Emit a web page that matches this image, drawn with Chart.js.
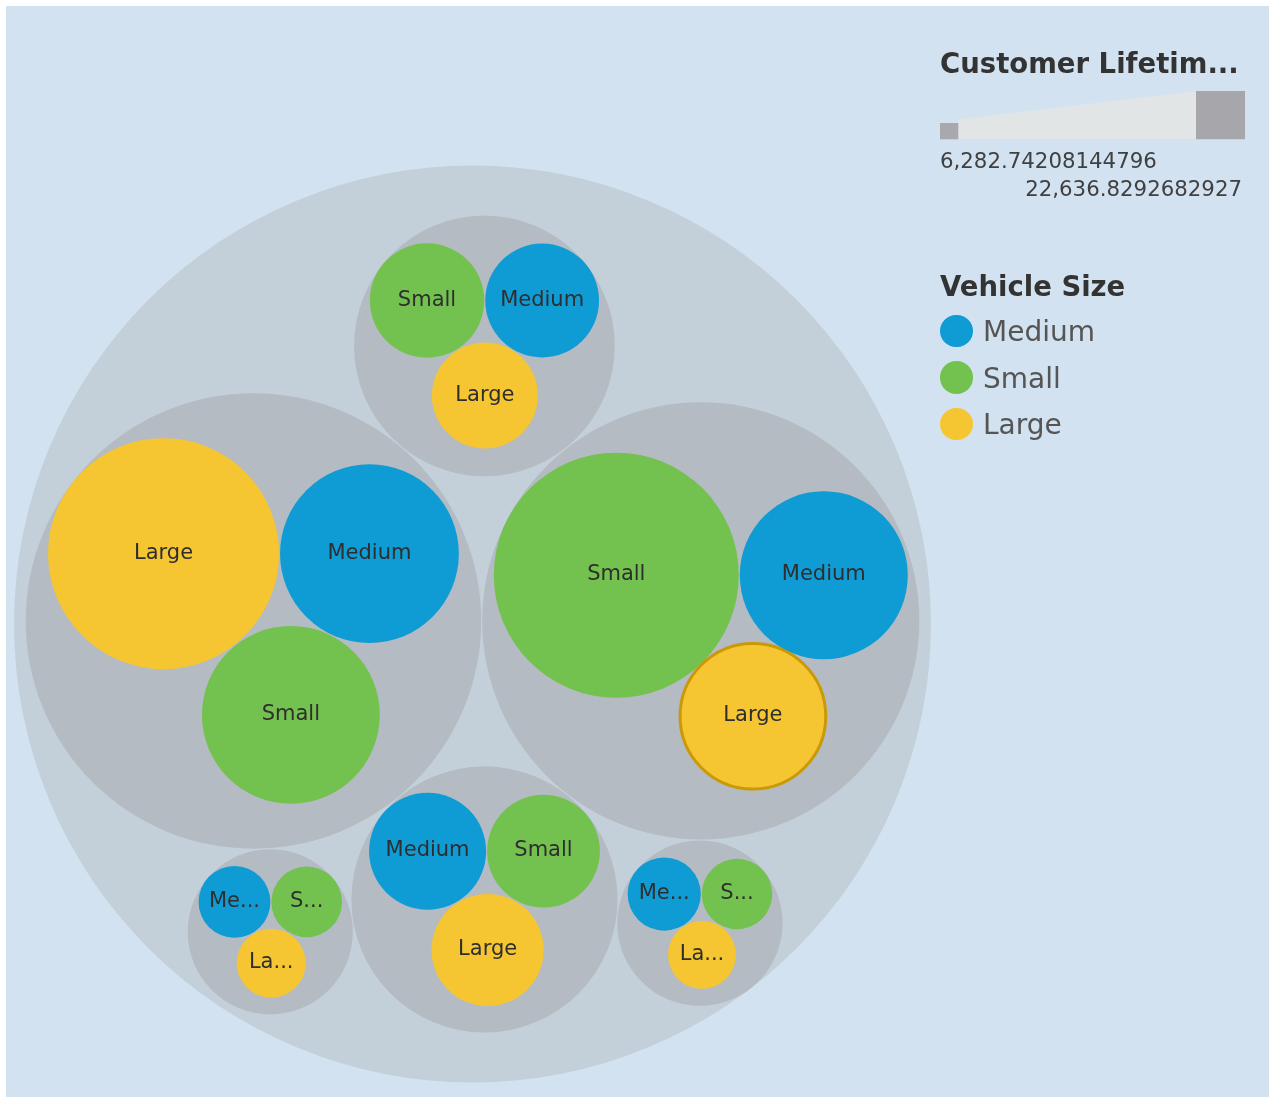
<!DOCTYPE html>
<html>
<head>
<meta charset="utf-8">
<script src="https://cdn.jsdelivr.net/npm/chart.js@4.4.1/dist/chart.umd.min.js"></script>
<style>
  html, body { margin: 0; padding: 0; background: #ffffff; }
  body { width: 1271px; height: 1099px; position: relative; overflow: hidden; font-family: "DejaVu Sans", sans-serif; }
  #frame { position: absolute; left: 6px; top: 6px; width: 1263px; height: 1091px; background: #d2e2f0; }
  #c { position: absolute; left: 0; top: 0; }
  .lg { position: absolute; white-space: nowrap; line-height: 1; }
  .ttl { font-weight: bold; font-size: 27.5px; color: #333333; }
  .tick { font-size: 21.3px; color: #404040; }
  .item { font-size: 28px; color: #555555; }
  .dot { position: absolute; width: 32.6px; height: 32.6px; border-radius: 50%; }
  #sizeLegend { position: absolute; left: 0; top: 0; }
</style>
</head>
<body>
<div id="frame"></div>
<canvas id="c" width="1271" height="1099"></canvas>
<svg id="sizeLegend" width="1271" height="220"></svg>
<div id="legend"></div>
<script>
// ---------------- DATA ----------------
const sizeNames = ['Medium', 'Small', 'Large'];
const groupNames = ['Group 1', 'Group 2', 'Group 3', 'Group 4', 'Group 5', 'Group 6'];
// Customer Lifetime Value per group, for each Vehicle Size
const mediumValues = [16520, 15522, 10810, 10515, 6634, 6763];
const smallValues  = [16428, 22636.83, 10422, 10570, 6523, 6505];
const largeValues  = [21343, 13460, 10367, 9794, 6375, 6282.74];
const sizeLegendMin = 6282.74208144796;
const sizeLegendMax = 22636.8292682927;
const sizeLegendLabels = ['6,282.74208144796', '22,636.8292682927'];
const legendTitleSize = 'Customer Lifetim...';
const legendTitleColor = 'Vehicle Size';

// ---------------- STYLE ----------------
const sizeColors = { Medium: '#0f9bd4', Small: '#73c14f', Large: '#f5c631' };
const groupColor = '#b4bbc3';
const outerColor = '#c3d0d9';
const highlight = { size: 'Large', group: 1, color: '#c99a06', width: 3 };
const maxRadiusPx = 122.5;
const childPad = 1, groupPad = 1;
const centerPx = { x: 472.5, y: 624 };

const valuesBySize = { Medium: mediumValues, Small: smallValues, Large: largeValues };
const radiusOf = v => maxRadiusPx * v / sizeLegendMax;

// ---------------- PACK LAYOUT ----------------
function packCircles(items, pad) {
  const placed = [];
  items.forEach((c, idx) => {
    if (idx === 0) { c.x = 0; c.y = 0; }
    else if (idx === 1) { c.x = placed[0].r + c.r + pad; c.y = 0; }
    else {
      let A = 0, cx = 0, cy = 0;
      placed.forEach(p => { const a = p.r * p.r; A += a; cx += p.x * a; cy += p.y * a; });
      cx /= A; cy /= A;
      let best = null, bestD = Infinity;
      for (let i = 0; i < placed.length; i++) {
        for (let j = i + 1; j < placed.length; j++) {
          const a = placed[i], b = placed[j];
          const ra = a.r + c.r + pad, rb = b.r + c.r + pad;
          const dx = b.x - a.x, dy = b.y - a.y, d = Math.hypot(dx, dy);
          if (d > ra + rb || d < Math.abs(ra - rb)) continue;
          const t = (ra * ra - rb * rb + d * d) / (2 * d);
          const h = Math.sqrt(Math.max(0, ra * ra - t * t));
          const ux = dx / d, uy = dy / d;
          const bx = a.x + ux * t, by = a.y + uy * t;
          [1, -1].forEach(s => {
            const px = bx - uy * h * s, py = by + ux * h * s;
            const ok = placed.every(p => Math.hypot(px - p.x, py - p.y) >= p.r + c.r + pad - 1e-6);
            if (!ok) return;
            const dist = Math.hypot(px - cx, py - cy);
            if (dist < bestD - 1e-6 || (Math.abs(dist - bestD) <= 1e-6 && py > best.y)) {
              bestD = dist; best = { x: px, y: py };
            }
          });
        }
      }
      c.x = best.x; c.y = best.y;
    }
    placed.push(c);
  });
}
function encloseByBox(items) {
  let x0 = Infinity, x1 = -Infinity, y0 = Infinity, y1 = -Infinity;
  items.forEach(c => { x0 = Math.min(x0, c.x - c.r); x1 = Math.max(x1, c.x + c.r); y0 = Math.min(y0, c.y - c.r); y1 = Math.max(y1, c.y + c.r); });
  const cx = (x0 + x1) / 2, cy = (y0 + y1) / 2;
  let r = 0;
  items.forEach(c => { r = Math.max(r, Math.hypot(c.x - cx, c.y - cy) + c.r); });
  return { x: cx, y: cy, r };
}

const groups = groupNames.map((g, gi) => {
  const kids = sizeNames.map(s => ({ size: s, group: gi, value: valuesBySize[s][gi], r: radiusOf(valuesBySize[s][gi]) }));
  kids.sort((a, b) => b.value - a.value);
  packCircles(kids, childPad);
  const e = encloseByBox(kids);
  kids.forEach(k => { k.x -= e.x; k.y -= e.y; });
  return { name: g, kids, r: e.r };
});
packCircles(groups, groupPad);
const outer = encloseByBox(groups);
const offX = centerPx.x - outer.x, offY = centerPx.y - outer.y;
groups.forEach(g => { g.px = g.x + offX; g.py = g.y + offY; g.kids.forEach(k => { k.px = g.px + k.x; k.py = g.py + k.y; }); });

// ---------------- CHART ----------------
const sizeDatasets = sizeNames.map(s => {
  const pts = groups.map(g => { const k = g.kids.find(q => q.size === s); return { x: k.px, y: k.py, r: k.r, label: s }; });
  return {
    label: s,
    data: pts,
    backgroundColor: sizeColors[s],
    borderColor: highlight.color,
    borderWidth: ctx => (s === highlight.size && ctx.dataIndex === highlight.group) ? highlight.width : 0,
    order: 0,
    clip: false
  };
});
const groupDataset = {
  label: 'Groups',
  data: groups.map(g => ({ x: g.px, y: g.py, r: g.r })),
  backgroundColor: groupColor, borderWidth: 0, order: 1, clip: false
};
const outerDataset = {
  label: 'All',
  data: [{ x: centerPx.x, y: centerPx.y, r: outer.r }],
  backgroundColor: outerColor, borderWidth: 0, order: 2, clip: false
};

const labelPlugin = {
  id: 'bubbleLabels',
  afterDatasetsDraw(chart) {
    const ctx = chart.ctx;
    ctx.save();
    ctx.font = '21px "DejaVu Sans"';
    ctx.fillStyle = '#2e2e2e';
    ctx.textAlign = 'center';
    ctx.textBaseline = 'alphabetic';
    sizeNames.forEach((s, di) => {
      const meta = chart.getDatasetMeta(di);
      meta.data.forEach((el) => {
        const r = el.options.radius;
        const maxW = 2 * r - 19.5;
        let txt = s;
        if (ctx.measureText(txt).width > maxW) {
          let n = s.length - 1;
          while (n > 1 && ctx.measureText(s.slice(0, n) + '...').width > maxW) n--;
          txt = s.slice(0, n) + '...';
        }
        ctx.fillText(txt, el.x, el.y + 5.2);
      });
    });
    ctx.restore();
  }
};

new Chart(document.getElementById('c'), {
  type: 'bubble',
  data: { datasets: [...sizeDatasets, groupDataset, outerDataset] },
  options: {
    responsive: false,
    animation: false,
    events: [],
    layout: { autoPadding: false, padding: 0 },
    scales: {
      x: { type: 'linear', display: false, min: 0, max: 1271 },
      y: { type: 'linear', display: false, min: 0, max: 1099, reverse: true }
    },
    plugins: { legend: { display: false }, tooltip: { enabled: false } }
  },
  plugins: [labelPlugin]
});

// ---------------- LEGENDS ----------------
const svgNS = 'http://www.w3.org/2000/svg';
const svg = document.getElementById('sizeLegend');
function poly(points, fill) { const p = document.createElementNS(svgNS, 'polygon'); p.setAttribute('points', points); p.setAttribute('fill', fill); svg.appendChild(p); }
poly('958,139 958,119.5 1196,91 1196,139', '#e2e5e6');
poly('940,123 958.3,123 958.3,139.3 940,139.3', '#a8a8ad');
poly('1196,91 1245,91 1245,139.3 1196,139.3', '#a6a6ab');

const lg = document.getElementById('legend');
function addText(cls, text, style) { const d = document.createElement('div'); d.className = 'lg ' + cls; d.textContent = text; Object.assign(d.style, style); lg.appendChild(d); return d; }
addText('ttl', legendTitleSize, { left: '940px', top: '50px' });
addText('tick', sizeLegendLabels[0], { left: '940px', top: '150.3px' });
addText('tick', sizeLegendLabels[1], { right: '29px', top: '178px' });
addText('ttl', legendTitleColor, { left: '940px', top: '273.4px' });
sizeNames.forEach((s, i) => {
  const dot = document.createElement('div');
  dot.className = 'dot';
  dot.style.background = sizeColors[s];
  dot.style.left = (956.3 - 16.3) + 'px';
  dot.style.top = (330.8 + i * 46.7 - 16.3) + 'px';
  lg.appendChild(dot);
  addText('item', s, { left: '983px', top: (318 + i * 46.7) + 'px' });
});
</script>
</body>
</html>
